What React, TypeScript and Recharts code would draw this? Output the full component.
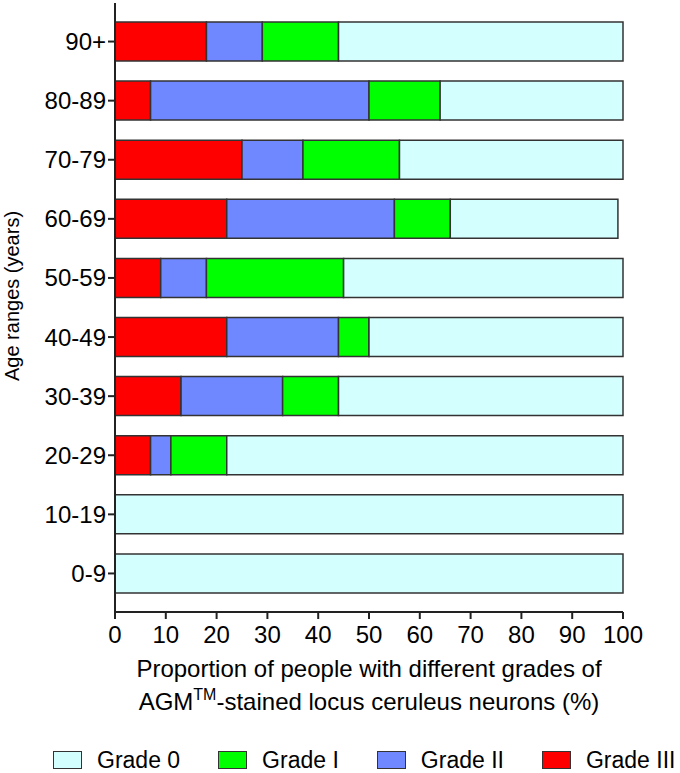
import React from 'react';
import { BarChart, Bar, XAxis, YAxis, Legend } from 'recharts';

const ageRanges = ['90+', '80-89', '70-79', '60-69', '50-59', '40-49', '30-39', '20-29', '10-19', '0-9'];
const gradeIII = [18, 7, 25, 22, 9, 22, 13, 7, 0, 0];
const gradeII = [11, 43, 12, 33, 9, 22, 20, 4, 0, 0];
const gradeI = [15, 14, 19, 11, 27, 6, 11, 11, 0, 0];
const grade0 = [56, 36, 44, 33, 55, 50, 56, 78, 100, 100];
const xTicks = [0, 10, 20, 30, 40, 50, 60, 70, 80, 90, 100];

const legendItems = [
  { key: 'g0', label: 'Grade 0' },
  { key: 'g1', label: 'Grade I' },
  { key: 'g2', label: 'Grade II' },
  { key: 'g3', label: 'Grade III' },
];

const COLORS: Record<string, string> = {
  g0: '#D4FFFF',
  g1: '#00FF00',
  g2: '#6F87FF',
  g3: '#FF0000',
};

const FONT = '"Liberation Sans", Arial, Helvetica, sans-serif';
const AXIS = '#222';
const EDGE = '#333';

const data = ageRanges.map((age, i) => ({
  age,
  g3: gradeIII[i],
  g2: gradeII[i],
  g1: gradeI[i],
  g0: grade0[i],
}));

const XLabel = (props: any) => {
  const vb = props.viewBox || {};
  const cx = vb.x + vb.width / 2;
  return (
    <text x={cx} y={vb.y + 65} textAnchor="middle" fontFamily={FONT} fontSize={24} fill="#000">
      <tspan x={cx} y={vb.y + 65}>Proportion of people with different grades of</tspan>
      <tspan x={cx} y={vb.y + 98}>
        AGM
        <tspan fontSize={16} dy={-10}>TM</tspan>
        <tspan dy={10}>-stained locus ceruleus neurons (%)</tspan>
      </tspan>
    </text>
  );
};

const YLabel = (props: any) => {
  const vb = props.viewBox || {};
  const x = 19;
  const y = vb.y + vb.height / 2 - 11.5;
  return (
    <text
      x={x}
      y={y}
      transform={`rotate(-90, ${x}, ${y})`}
      textAnchor="middle"
      fontFamily={FONT}
      fontSize={20}
      fill="#000"
    >
      Age ranges (years)
    </text>
  );
};

const LegendContent = () => (
  <div
    style={{
      display: 'flex',
      alignItems: 'center',
      height: 26,
      paddingLeft: 53,
      gap: 38,
      fontFamily: FONT,
      fontSize: 23,
      color: '#000',
      boxSizing: 'border-box',
    }}
  >
    {legendItems.map((it) => (
      <div key={it.key} style={{ display: 'flex', alignItems: 'center' }}>
        <div
          style={{
            width: 29,
            height: 18,
            background: COLORS[it.key],
            border: `1.5px solid ${EDGE}`,
            boxSizing: 'border-box',
            marginRight: 15,
          }}
        />
        <span style={{ lineHeight: '26px' }}>{it.label}</span>
      </div>
    ))}
  </div>
);

export default function App() {
  return (
    <div style={{ position: 'absolute', left: 0, top: 0, width: 680, height: 773, background: '#fff' }}>
      <BarChart
        width={680}
        height={773}
        data={data}
        layout="vertical"
        margin={{ top: 3, right: 57, left: 0, bottom: 0 }}
        barSize={39}
      >
        <XAxis
          type="number"
          domain={[0, 100]}
          ticks={xTicks}
          interval={0}
          height={135}
          axisLine={{ stroke: AXIS, strokeWidth: 2 }}
          tickLine={{ stroke: AXIS, strokeWidth: 2 }}
          tickSize={7}
          tickMargin={7}
          tick={{ fontFamily: FONT, fontSize: 24, fill: '#000' }}
          label={<XLabel />}
        />
        <YAxis
          type="category"
          dataKey="age"
          width={115}
          padding={{ top: 9, bottom: 9 }}
          axisLine={{ stroke: AXIS, strokeWidth: 2 }}
          tickLine={{ stroke: AXIS, strokeWidth: 2 }}
          tickSize={7}
          tickMargin={2}
          interval={0}
          tick={{ fontFamily: FONT, fontSize: 24, fill: '#000' }}
          label={<YLabel />}
        />
        <Legend
          verticalAlign="bottom"
          align="left"
          wrapperStyle={{ left: 0, width: 680, bottom: 0 }}
          content={<LegendContent />}
        />
        <Bar dataKey="g3" name="Grade III" stackId="a" fill={COLORS.g3} stroke={EDGE} strokeWidth={1.5} isAnimationActive={false} />
        <Bar dataKey="g2" name="Grade II" stackId="a" fill={COLORS.g2} stroke={EDGE} strokeWidth={1.5} isAnimationActive={false} />
        <Bar dataKey="g1" name="Grade I" stackId="a" fill={COLORS.g1} stroke={EDGE} strokeWidth={1.5} isAnimationActive={false} />
        <Bar dataKey="g0" name="Grade 0" stackId="a" fill={COLORS.g0} stroke={EDGE} strokeWidth={1.5} isAnimationActive={false} />
      </BarChart>
    </div>
  );
}
